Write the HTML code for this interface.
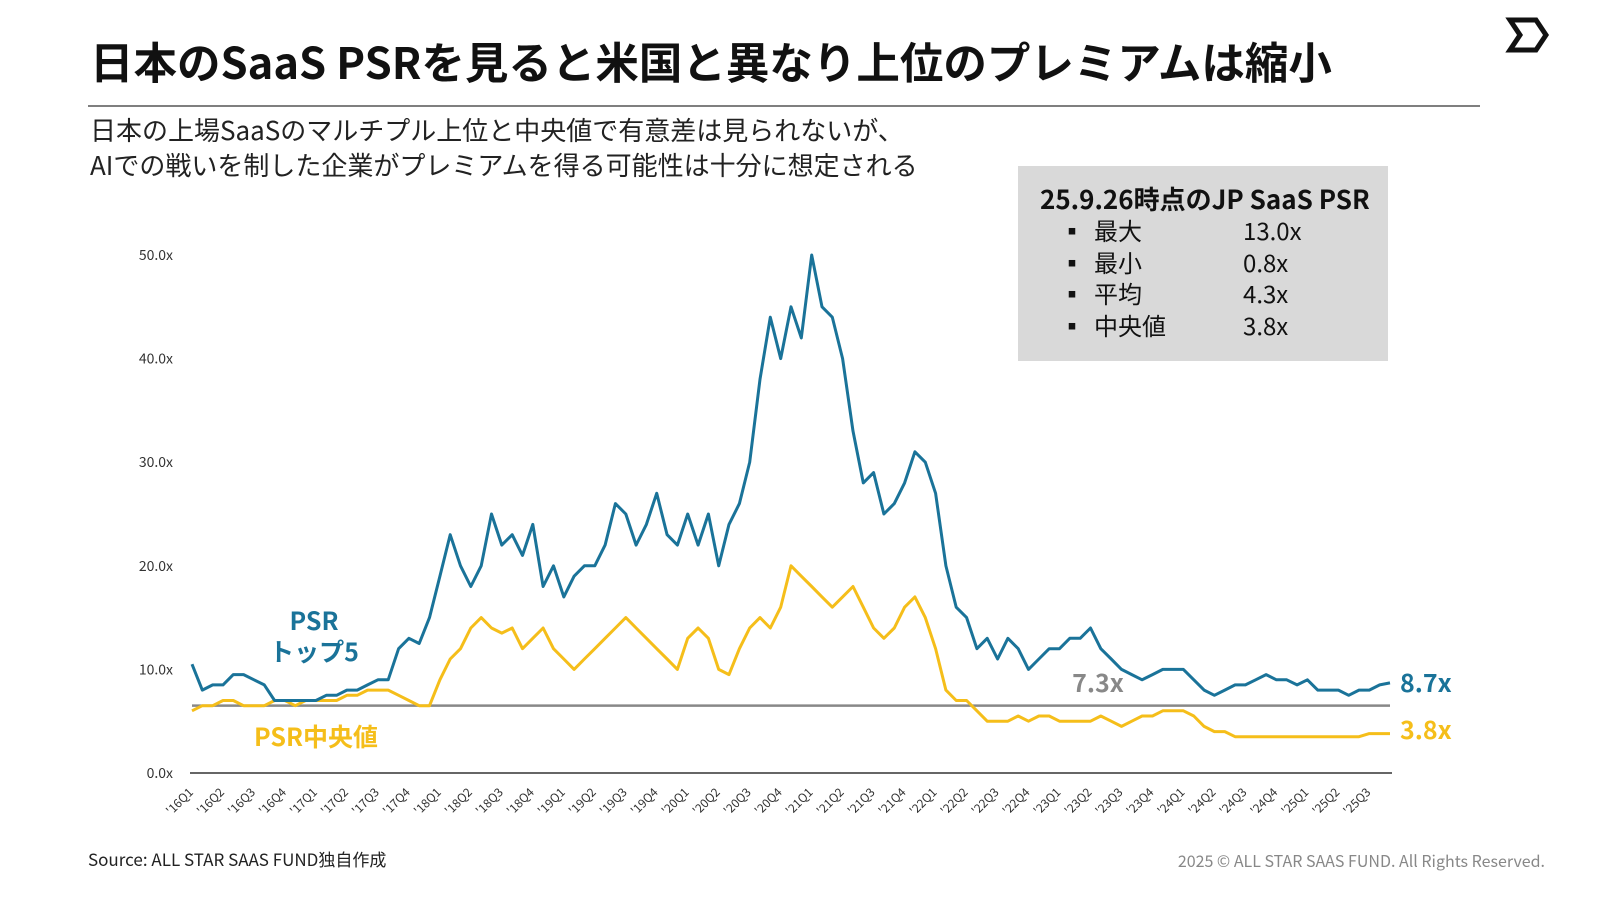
<!DOCTYPE html>
<html><head><meta charset="utf-8"><style>
body{margin:0;background:#fff}
svg{display:block;font-family:"Noto Sans CJK JP","Liberation Sans",sans-serif}
</style></head><body>
<svg id="chart" width="1600" height="900" viewBox="0 0 1600 900">
<text x="90" y="79" font-size="43.5" font-weight="bold" fill="#111">日本のSaaS PSRを見ると米国と異なり上位のプレミアムは縮小</text>
<g><polygon points="1510,20 1536,20 1546,35 1536,50 1510,50 1520,35" fill="none" stroke="#111" stroke-width="5"/></g>
<line x1="88" y1="106" x2="1480" y2="106" stroke="#555" stroke-width="1.5"/>
<text x="90" y="140" font-size="26" fill="#222">日本の上場SaaSのマルチプル上位と中央値で有意差は見られないが、</text>
<text x="90" y="175" font-size="26" fill="#222">AIでの戦いを制した企業がプレミアムを得る可能性は十分に想定される</text>
<g>
<rect x="1018" y="166" width="370" height="195" fill="#d9d9d9"/>
<text x="1040" y="209" font-size="26" font-weight="bold" fill="#111">25.9.26時点のJP SaaS PSR</text>
<g font-size="24" fill="#111">
<text x="1060" y="240">▪</text><text x="1094" y="240">最大</text><text x="1243" y="240">13.0x</text>
<text x="1060" y="272">▪</text><text x="1094" y="272">最小</text><text x="1243" y="272">0.8x</text>
<text x="1060" y="303">▪</text><text x="1094" y="303">平均</text><text x="1243" y="303">4.3x</text>
<text x="1060" y="335">▪</text><text x="1094" y="335">中央値</text><text x="1243" y="335">3.8x</text>
</g></g>
<g id="yaxis"></g>
<g id="xaxis"></g>
<g id="series"></g>
<text x="314" y="630" font-size="25" font-weight="bold" fill="#1a7399" text-anchor="middle">PSR</text>
<text x="314" y="661" font-size="25" font-weight="bold" fill="#1a7399" text-anchor="middle">トップ5</text>
<text x="316" y="746" font-size="25" font-weight="bold" fill="#f5be1a" text-anchor="middle">PSR中央値</text>
<text x="1098" y="692" font-size="25" font-weight="bold" fill="#888" text-anchor="middle">7.3x</text>
<text x="1400" y="692" font-size="25" font-weight="bold" fill="#1a7399">8.7x</text>
<text x="1400" y="739" font-size="25" font-weight="bold" fill="#f5be1a">3.8x</text>
<text x="88" y="866" font-size="17" fill="#222">Source: ALL STAR SAAS FUND独自作成</text>
<text x="1545" y="867" font-size="16" fill="#888" text-anchor="end">2025 © ALL STAR SAAS FUND. All Rights Reserved.</text>
</svg>
<script>
const yTicks=[0,10,20,30,40,50];
const yTickLabels=["0.0x","10.0x","20.0x","30.0x","40.0x","50.0x"];
const quarterLabels=["'16Q1","'16Q2","'16Q3","'16Q4","'17Q1","'17Q2","'17Q3","'17Q4","'18Q1","'18Q2","'18Q3","'18Q4","'19Q1","'19Q2","'19Q3","'19Q4","'20Q1","'20Q2","'20Q3","'20Q4","'21Q1","'21Q2","'21Q3","'21Q4","'22Q1","'22Q2","'22Q3","'22Q4","'23Q1","'23Q2","'23Q3","'23Q4","'24Q1","'24Q2","'24Q3","'24Q4","'25Q1","'25Q2","'25Q3"];
const top5=[10.5,8,8.5,8.5,9.5,9.5,9,8.5,7,7,7,7,
7,7.5,7.5,8,8,8.5,9,9,12,13,12.5,15,
19,23,20,18,20,25,22,23,21,24,18,20,
17,19,20,20,22,26,25,22,24,27,23,22,
25,22,25,20,24,26,30,38,44,40,45,42,
50,45,44,40,33,28,29,25,26,28,31,30,
27,20,16,15,12,13,11,13,12,10,11,12,
12,13,13,14,12,11,10,9.5,9,9.5,10,10,
10,9,8,7.5,8,8.5,8.5,9,9.5,9,9,8.5,
9,8,8,8,7.5,8,8,8.5,8.7];
const median=[6,6.5,6.5,7,7,6.5,6.5,6.5,7,7,6.5,7,
7,7,7,7.5,7.5,8,8,8,7.5,7,6.5,6.5,
9,11,12,14,15,14,13.5,14,12,13,14,12,
11,10,11,12,13,14,15,14,13,12,11,10,
13,14,13,10,9.5,12,14,15,14,16,20,19,
18,17,16,17,18,16,14,13,14,16,17,15,
12,8,7,7,6,5,5,5,5.5,5,5.5,5.5,
5,5,5,5,5.5,5,4.5,5,5.5,5.5,6,6,
6,5.5,4.5,4,4,3.5,3.5,3.5,3.5,3.5,3.5,3.5,
3.5,3.5,3.5,3.5,3.5,3.5,3.8,3.8,3.8];
const refLevel=[6.5];
const NS="http://www.w3.org/2000/svg";
const X0=192,XSTEP=(1390-192)/(top5.length-1),Y0=773,YS=(773-255)/50;
const sx=i=>X0+i*XSTEP, sy=v=>Y0-v*YS;
function mk(tag,attrs,parent){const e=document.createElementNS(NS,tag);for(const k in attrs)e.setAttribute(k,attrs[k]);parent.appendChild(e);return e;}
const ya=document.getElementById('yaxis'),xa=document.getElementById('xaxis'),sr=document.getElementById('series');
yTicks.forEach((t,i)=>{const e=mk('text',{x:173,y:sy(t)+5,'font-size':14,fill:'#333','text-anchor':'end'},ya);e.textContent=yTickLabels[i];

});
const base=mk('line',{x1:190,x2:1392,y1:Y0,y2:Y0,stroke:'#666','stroke-width':2},xa);


quarterLabels.forEach((q,i)=>{const x=sx(i*3)+2,y=Y0+20;const e=mk('text',{x:x,y:y,'font-size':12,fill:'#333','text-anchor':'end',transform:`rotate(-45 ${x} ${y})`},xa);e.textContent=q;

});
const ref=mk('line',{x1:192,x2:1390,y1:sy(refLevel[0]),y2:sy(refLevel[0]),stroke:'#888','stroke-width':2.5},sr);


function path(arr,color,name){const d=arr.map((v,i)=>(i?'L':'M')+sx(i).toFixed(1)+','+sy(v).toFixed(1)).join('');
const p=mk('path',{d:d,fill:'none',stroke:color,'stroke-width':3,'stroke-linejoin':'round'},sr);

}
path(median,'#f5be1a','median-line');
path(top5,'#1a7399','top5-line');
</script>
</body></html>
